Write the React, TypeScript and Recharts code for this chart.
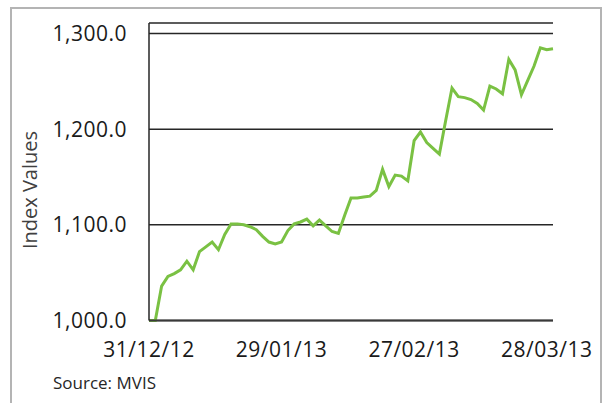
import { CartesianGrid, Line, LineChart, XAxis, YAxis } from "recharts"

// trading days, 31/12/12 .. 29/03/13
const dates = [
  "31/12/12", "01/01/13", "02/01/13", "03/01/13", "04/01/13",
  "07/01/13", "08/01/13", "09/01/13", "10/01/13", "11/01/13",
  "14/01/13", "15/01/13", "16/01/13", "17/01/13", "18/01/13",
  "21/01/13", "22/01/13", "23/01/13", "24/01/13", "25/01/13",
  "28/01/13", "29/01/13", "30/01/13", "31/01/13", "01/02/13",
  "04/02/13", "05/02/13", "06/02/13", "07/02/13", "08/02/13",
  "11/02/13", "12/02/13", "13/02/13", "14/02/13", "15/02/13",
  "18/02/13", "19/02/13", "20/02/13", "21/02/13", "22/02/13",
  "25/02/13", "26/02/13", "27/02/13", "28/02/13", "01/03/13",
  "04/03/13", "05/03/13", "06/03/13", "07/03/13", "08/03/13",
  "11/03/13", "12/03/13", "13/03/13", "14/03/13", "15/03/13",
  "18/03/13", "19/03/13", "20/03/13", "21/03/13", "22/03/13",
  "25/03/13", "26/03/13", "27/03/13", "28/03/13", "29/03/13",
]

const indexValues = [
  1000, 1000, 1036, 1046, 1049,
  1053, 1062, 1053, 1072, 1077,
  1082, 1074, 1090, 1101, 1101,
  1100, 1098, 1095, 1088, 1082,
  1080, 1082, 1094, 1101, 1103,
  1106, 1099, 1105, 1099, 1093,
  1091, 1110, 1128, 1128, 1129,
  1130, 1136, 1158, 1140, 1152,
  1151, 1146, 1188, 1197, 1186,
  1180, 1174, 1209, 1243, 1234,
  1233, 1231, 1227, 1220, 1245,
  1242, 1237, 1273, 1262, 1236,
  1251, 1266, 1285, 1283, 1284,
]

const yTicks = [1000, 1100, 1200, 1300]

const FONT = "'Open Sans', sans-serif"

export default function App() {
  const data = dates.map((date, i) => ({ date, value: indexValues[i] }))

  return (
    <div
      style={{
        position: "absolute",
        left: 0,
        top: 0,
        width: 610,
        height: 403,
        background: "#fff",
        overflow: "hidden",
        fontFamily: FONT,
      }}
    >
      {/* outer frame */}
      <div
        style={{
          position: "absolute",
          left: 10,
          top: 7,
          width: 588,
          height: 420,
          border: "2px solid #b4b4b4",
        }}
      />
      <LineChart
        width={610}
        height={403}
        data={data}
        margin={{ top: 23, right: 57, bottom: 22.5, left: 0 }}
        style={{ position: "absolute", left: 0, top: 0 }}
      >
        <CartesianGrid
          horizontal
          vertical={false}
          stroke="#262626"
          strokeWidth={1.5}
        />
        <XAxis
          dataKey="date"
          interval={20}
          height={60}
          tickLine={false}
          tickSize={0}
          tickMargin={22}
          axisLine={{ stroke: "#3a3a3a", strokeWidth: 2 }}
          tick={{ fill: "#1a1a1a", fontSize: 21, fontFamily: FONT, letterSpacing: 0.5 }}
        />
        <YAxis
          width={149}
          domain={[1000, 1311]}
          ticks={yTicks}
          tickFormatter={(v: number) =>
            v.toLocaleString("en-US", { minimumFractionDigits: 1, maximumFractionDigits: 1 })
          }
          tickLine={false}
          tickSize={0}
          tickMargin={22}
          axisLine={{ stroke: "#262626", strokeWidth: 1.5 }}
          tick={{ fill: "#1a1a1a", fontSize: 21, fontFamily: FONT, letterSpacing: 0.5 }}
        />
        <Line
          type="linear"
          dataKey="value"
          stroke="#7AC143"
          strokeWidth={3}
          dot={false}
          isAnimationActive={false}
        />
      </LineChart>
      <div
        style={{
          position: "absolute",
          left: 30,
          top: 190,
          transform: "translate(-50%, -50%) rotate(-90deg)",
          whiteSpace: "nowrap",
          fontSize: 20,
          lineHeight: "20px",
          color: "#404040",
        }}
      >
        Index Values
      </div>
      <div
        style={{
          position: "absolute",
          left: 53,
          top: 374,
          fontSize: 17,
          lineHeight: "17px",
          color: "#262626",
          whiteSpace: "nowrap",
        }}
      >
        Source: MVIS
      </div>
    </div>
  )
}
